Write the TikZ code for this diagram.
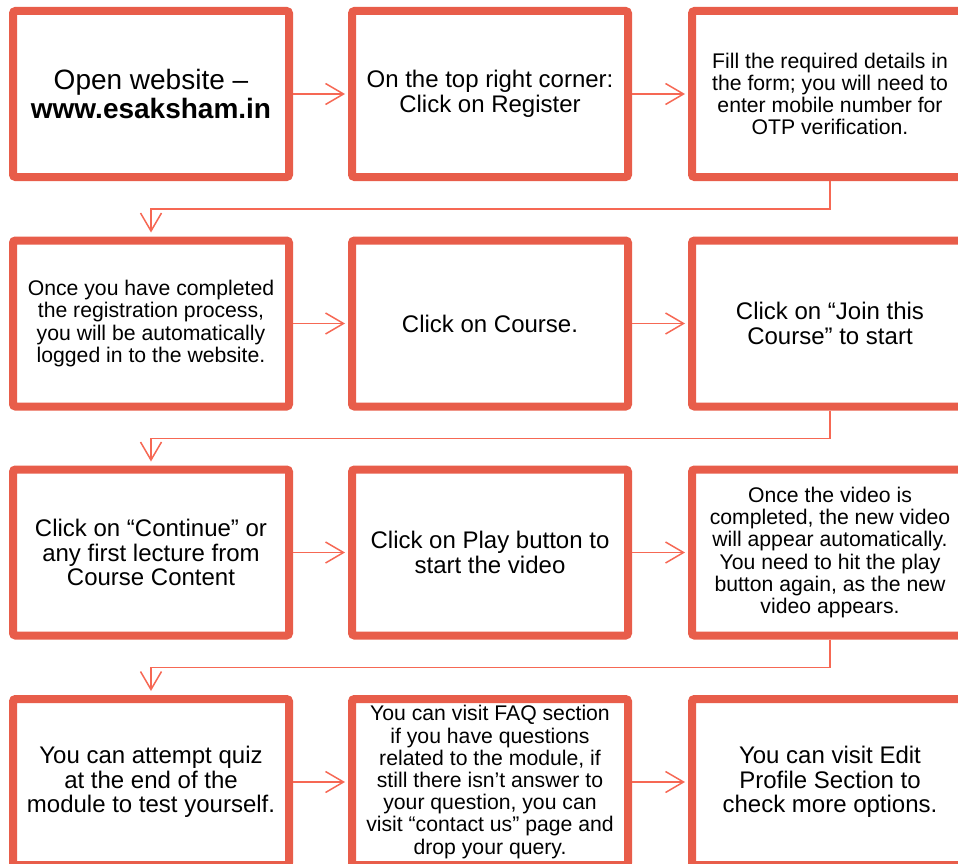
\documentclass[tikz,border=0pt]{standalone}
\usepackage{fontspec}
\setmainfont{Liberation Sans}
\usetikzlibrary{arrows.meta}
\definecolor{boxred}{RGB}{232,93,74}
\definecolor{linkred}{RGB}{246,104,84}
\begin{document}
\begin{tikzpicture}[x=1pt,y=-1pt,
  stepbox/.style={draw=boxred, line width=8pt, rounded corners=2.5pt,
    minimum width=276pt, minimum height=166pt, inner sep=0pt,
    align=center, fill=white, text=black},
  link/.style={draw=linkred, line width=1.5pt,
    -{Straight Barb[length=18pt,width=21pt,line width=1.5pt]},
    shorten >=3pt},
  turn/.style={draw=linkred, line width=1.5pt,
    -{Straight Barb[length=18pt,width=21pt,line width=1.5pt]},
    shorten >=4pt},
  fbig/.style={font=\fontsize{28}{28.5}\selectfont},
  fmid/.style={font=\fontsize{24}{24.5}\selectfont},
  fsml/.style={font=\fontsize{21.2}{22.2}\selectfont}]
\useasboundingbox (0,0) rectangle (958,864);
\clip (0,0) rectangle (958,864);
% row 1
\node[stepbox,fbig] (a1) at (151,94) {Open website –\\\textbf{www.esaksham.in}};
\node[stepbox,fmid] (a2) at (490,94) {On the top right corner:\\Click on Register};
\node[stepbox,fsml] (a3) at (830,94) {Fill the required details in\\the form; you will need to\\enter mobile number for\\OTP verification.};
% row 2
\node[stepbox,fsml] (b1) at (151,323.5) {Once you have completed\\the registration process,\\you will be automatically\\logged in to the website.};
\node[stepbox,fmid] (b2) at (490,323.5) {Click on Course.};
\node[stepbox,fmid] (b3) at (830,323.5) {Click on “Join this\\Course” to start};
% row 3
\node[stepbox,fmid] (c1) at (151,552.5) {Click on “Continue” or\\any first lecture from\\Course Content};
\node[stepbox,fmid] (c2) at (490,552.5) {Click on Play button to\\start the video};
\node[stepbox,fsml] (c3) at (830,552.5) {Once the video is\\completed, the new video\\will appear automatically.\\You need to hit the play\\button again, as the new\\video appears.};
% row 4
\node[stepbox,fmid] (d1) at (151,782) {You can attempt quiz\\at the end of the\\module to test yourself.};
\node[stepbox,fsml] (d2) at (490,782) {You can visit FAQ section\\if you have questions\\related to the module, if\\still there isn’t answer to\\your question, you can\\visit “contact us” page and\\drop your query.};
\node[stepbox,fmid] (d3) at (830,782) {You can visit Edit\\Profile Section to\\check more options.};
% horizontal links
\draw[link] (a1.east) -- (a2.west);
\draw[link] (a2.east) -- (a3.west);
\draw[link] (b1.east) -- (b2.west);
\draw[link] (b2.east) -- (b3.west);
\draw[link] (c1.east) -- (c2.west);
\draw[link] (c2.east) -- (c3.west);
\draw[link] (d1.east) -- (d2.west);
\draw[link] (d2.east) -- (d3.west);
% row turns
\draw[turn] (a3.south) -- ++(0,28) -| (b1.north);
\draw[turn] (b3.south) -- ++(0,28) -| (c1.north);
\draw[turn] (c3.south) -- ++(0,28) -| (d1.north);
\end{tikzpicture}
\end{document}
